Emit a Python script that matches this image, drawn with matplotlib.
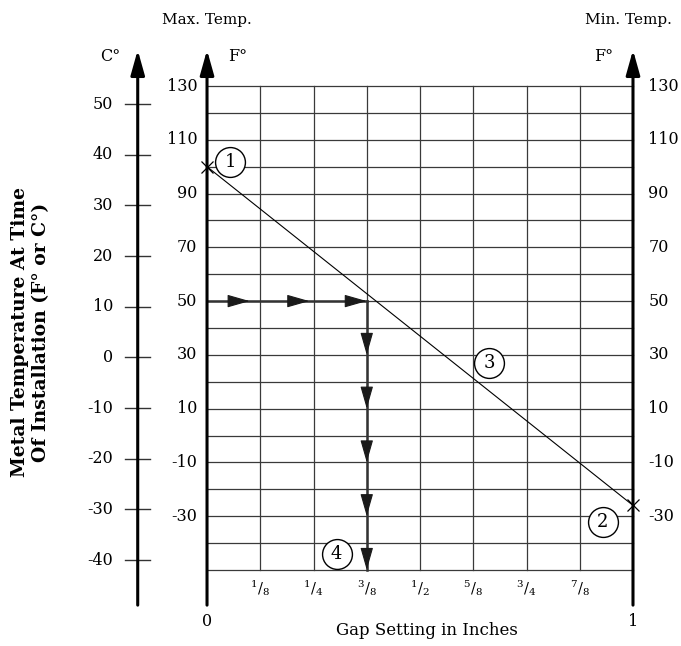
import numpy as np
import matplotlib
matplotlib.use('Agg')
import matplotlib.pyplot as plt

plt.rcParams['font.family'] = 'DejaVu Serif'
plt.rcParams['mathtext.fontset'] = 'dejavuserif'

# --- data ---
gap_grid = [1/8, 2/8, 3/8, 4/8, 5/8, 6/8, 7/8]
gap_labels = [r'$^{1}/_{8}$', r'$^{1}/_{4}$', r'$^{3}/_{8}$', r'$^{1}/_{2}$',
              r'$^{5}/_{8}$', r'$^{3}/_{4}$', r'$^{7}/_{8}$']
temp_grid = list(range(-50, 131, 10))
f_ticks = [130, 110, 90, 70, 50, 30, 10, -10, -30]
c_ticks = [50, 40, 30, 20, 10, 0, -10, -20, -30, -40]

# installation line: max temp at gap 0, min temp at gap 1
line_gap = [0, 1]
line_temp = [100, -26]

# worked example: 50 F -> 3/8 in
example_temp = 50
example_gap = 3/8
h_arrow_tips = [0.10, 0.24, 0.375]
v_arrow_tips = [30, 10, -10, -30, -50]

callout_text = ['1', '2', '3', '4']
callout_gap = [0.054, 0.929, 0.662, 0.304]
callout_temp = [101.8, -32.3, 27.0, -44.1]

# C scale as drawn (position on the F axis)
def c_pos(c):
    return 123.3 + (c - 50) * 1.885

fig = plt.figure(figsize=(6.81, 6.46), dpi=100)
ax = fig.add_axes([0, 0, 1, 1])
ax.set_xlim(-0.486, 1.1127)
ax.set_ylim(-78.3, 162.0)
ax.axis('off')

x_c = -0.1627
ax_bottom, ax_top = -63.1, 143.4
grid_col = '#3a3a3a'

# grid
for t in temp_grid:
    ax.plot([0, 1], [t, t], color=grid_col, lw=0.9, zorder=1)
for g in gap_grid:
    ax.plot([g, g], [-50, 130], color=grid_col, lw=0.9, zorder=1)

# vertical axes with arrows
for xa in [x_c, 0, 1]:
    ax.annotate('', xy=(xa, ax_top), xytext=(xa, ax_bottom),
                arrowprops=dict(arrowstyle='-|>,head_length=1.5,head_width=0.42',
                                lw=2.2, color='black', shrinkA=0, shrinkB=0),
                zorder=5)

# celsius ticks
for c in c_ticks:
    y = c_pos(c)
    ax.plot([x_c - 0.0295, x_c + 0.0295], [y, y], color='#333333', lw=1.0, zorder=4)
    ax.text(-0.22, y, str(c), ha='right', va='center', fontsize=11.5)

# fahrenheit labels
for f in f_ticks:
    ax.text(-0.023, f, str(f), ha='right', va='center', fontsize=11.5)
    ax.text(1.036, f, str(f), ha='left', va='center', fontsize=11.5)

# gap labels
for g, lab in zip(gap_grid, gap_labels):
    ax.text(g, -56.8, lab, ha='center', va='center', fontsize=10.5)
ax.text(0, -69.3, '0', ha='center', va='center', fontsize=11.5)
ax.text(1, -69.3, '1', ha='center', va='center', fontsize=11.5)
ax.text(0.517, -72.4, 'Gap Setting in Inches', ha='center', va='center', fontsize=12)

ax.text(0.0, 154.6, 'Max. Temp.', ha='center', va='center', fontsize=11)
ax.text(0.99, 154.6, 'Min. Temp.', ha='center', va='center', fontsize=11)
ax.text(-0.228, 140.8, 'C°', ha='center', va='center', fontsize=11.5)
ax.text(0.072, 140.8, 'F°', ha='center', va='center', fontsize=11.5)
ax.text(0.930, 140.8, 'F°', ha='center', va='center', fontsize=11.5)

ax.text(-0.414, 38.5, 'Metal Temperature At Time\nOf Installation (F° or C°)',
        rotation=90, ha='center', va='center', fontsize=13.5, fontweight='bold',
        linespacing=1.25)

# installation line
ax.plot(line_gap, line_temp, color='black', lw=0.8, zorder=3)
ax.plot(line_gap, line_temp, ls='none', marker='x', ms=9, mew=0.9,
        color='black', zorder=6)

# worked example arrows
ax.plot([0, example_gap], [example_temp, example_temp], color='#333333', lw=1.8, zorder=3)
ax.plot([example_gap, example_gap], [example_temp, -50], color='#333333', lw=1.8, zorder=3)
for tip in h_arrow_tips:
    ax.annotate('', xy=(tip, example_temp), xytext=(tip - 0.05, example_temp),
                arrowprops=dict(arrowstyle='-|>,head_length=1.4,head_width=0.4',
                                lw=0.8, color='#1a1a1a', shrinkA=0, shrinkB=0),
                zorder=4)
for tip in v_arrow_tips:
    ax.annotate('', xy=(example_gap, tip), xytext=(example_gap, tip + 8),
                arrowprops=dict(arrowstyle='-|>,head_length=1.4,head_width=0.4',
                                lw=0.8, color='#1a1a1a', shrinkA=0, shrinkB=0),
                zorder=4)

# callouts
ax.plot(callout_gap, callout_temp, ls='none', marker='o', ms=21.5, mfc='white',
        mec='black', mew=1.0, zorder=7)
for t, g, f in zip(callout_text, callout_gap, callout_temp):
    ax.text(g, f, t, ha='center', va='center', fontsize=13, zorder=8)

fig.savefig('out.png', dpi=100)
